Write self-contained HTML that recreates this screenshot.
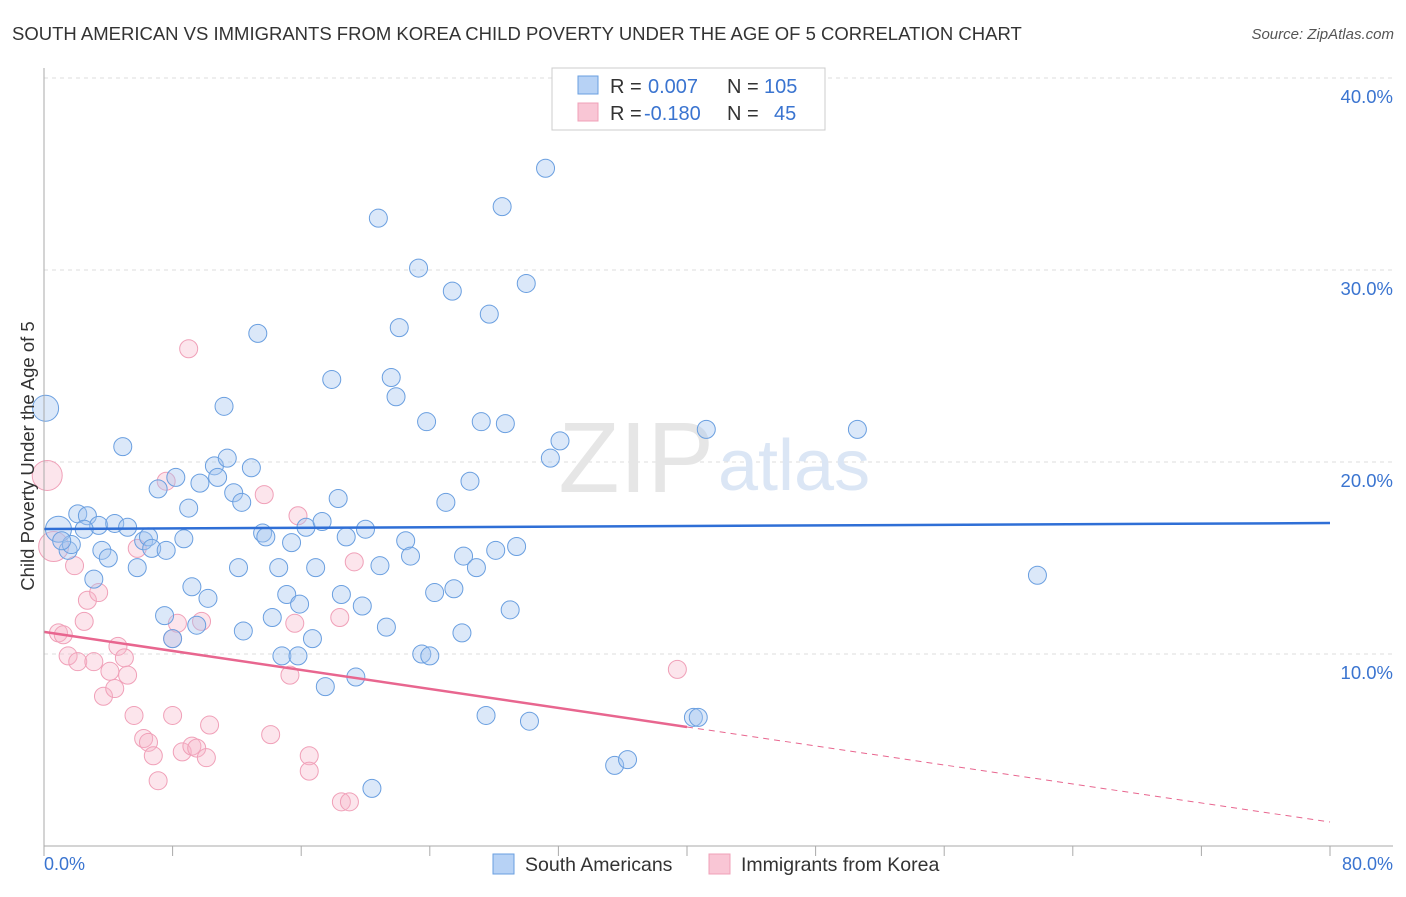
<!DOCTYPE html>
<html><head><meta charset="utf-8"><style>
body{margin:0;background:#fff;font-family:"Liberation Sans",sans-serif}
svg text{font-family:"Liberation Sans",sans-serif}
</style></head><body>
<svg id="c" width="1406" height="892" viewBox="0 0 1406 892">
<text x="12" y="40" font-size="18.5" fill="#333">SOUTH AMERICAN VS IMMIGRANTS FROM KOREA CHILD POVERTY UNDER THE AGE OF 5 CORRELATION CHART</text>
<text x="1394" y="39" font-size="15" fill="#555" font-style="italic" text-anchor="end">Source: ZipAtlas.com</text>
<g id="grid"></g>
<text x="714" y="492" font-size="100" fill="#e6e6e6" text-anchor="end" font-family="Liberation Serif">ZIP</text>
<text x="718" y="490" font-size="72" fill="#dbe6f5">atlas</text>
<g id="pts"></g>
<g id="lines"></g>
<line x1="44" y1="68" x2="44" y2="846" stroke="#aaa"/>
<line x1="44" y1="846" x2="1393" y2="846" stroke="#aaa"/>
<text transform="translate(34,456) rotate(-90)" font-size="18.5" fill="#333" text-anchor="middle">Child Poverty Under the Age of 5</text>
<text x="44" y="870" font-size="18" fill="#3a74d0">0.0%</text>
<text x="1393" y="870" font-size="18" fill="#3a74d0" text-anchor="end">80.0%</text>
<g>
<rect x="552" y="68" width="273" height="62" fill="#fff" stroke="#ccc"/>
<rect x="578" y="76" width="20" height="18" fill="#b7d2f5" stroke="#6a9fe0"/>
<rect x="578" y="103" width="20" height="18" fill="#f9c6d5" stroke="#f0a0b8"/>
<text x="610" y="93" font-size="20" fill="#333">R = <tspan x="648" fill="#3a74d0">0.007</tspan><tspan x="727">N = </tspan><tspan x="764" fill="#3a74d0">105</tspan></text>
<text x="610" y="120" font-size="20" fill="#333">R = <tspan x="644" fill="#3a74d0">-0.180</tspan><tspan x="727">N = </tspan><tspan fill="#3a74d0" x="774">45</tspan></text>
</g>
<g>
<rect x="493" y="854" width="21" height="20" fill="#b7d2f5" stroke="#6a9fe0"/>
<text x="525" y="871" font-size="19.5" fill="#333">South Americans</text></g>
<g>
<rect x="709" y="854" width="21" height="20" fill="#f9c6d5" stroke="#f0a0b8"/>
<text x="741" y="871" font-size="19.5" fill="#333">Immigrants from Korea</text></g>
</svg>
<script>
const yTicks=[10,20,30,40];
const yTickLabels=["10.0%","20.0%","30.0%","40.0%"];
const xTicks=[0,8,16,24,32,40,48,56,64,72,80];
const blueX=[0.1,0.9,1.5,1.7,1.1,2.1,2.7,3.4,2.5,3.1,3.6,4.0,4.4,4.9,5.2,5.8,6.2,6.5,6.7,7.1,7.6,8.2,8.7,9.0,9.2,7.5,8.0,9.5,9.7,10.2,10.6,10.8,11.2,11.4,11.8,12.1,12.3,12.4,12.9,13.3,13.6,13.8,14.2,14.6,15.1,14.8,15.4,15.8,15.9,16.3,16.7,16.9,17.3,17.5,17.9,18.3,18.5,18.8,19.4,19.8,20.0,20.4,20.8,20.9,21.3,21.6,21.9,22.1,22.5,22.8,23.3,23.5,23.8,24.0,24.3,25.0,25.4,25.5,26.0,26.1,26.5,26.9,27.2,27.5,27.7,28.1,28.5,28.7,29.0,29.4,30.0,30.2,31.2,31.5,32.1,35.5,36.3,40.4,40.7,41.2,50.6,61.8];
const blueY=[22.8,16.5,15.4,15.7,15.9,17.3,17.2,16.7,16.5,13.9,15.4,15.0,16.8,20.8,16.6,14.5,15.9,16.1,15.5,18.6,15.4,19.2,16.0,17.6,13.5,12.0,10.8,11.5,18.9,12.9,19.8,19.2,22.9,20.2,18.4,14.5,17.9,11.2,19.7,26.7,16.3,16.1,11.9,14.5,13.1,9.9,15.8,9.9,12.6,16.6,10.8,14.5,16.9,8.3,24.3,18.1,13.1,16.1,8.8,12.5,16.5,3.0,32.7,14.6,11.4,24.4,23.4,27.0,15.9,15.1,30.1,10.0,22.1,9.9,13.2,17.9,28.9,13.4,11.1,15.1,19.0,14.5,22.1,6.8,27.7,15.4,33.3,22.0,12.3,15.6,29.3,6.5,35.3,20.2,21.1,4.2,4.5,6.7,6.7,21.7,21.7,14.1];
const pinkX=[0.2,0.6,0.9,1.2,1.5,1.9,2.1,2.5,2.7,3.1,3.4,3.7,4.1,4.4,4.6,5.0,5.2,5.6,5.8,6.2,6.5,6.8,7.1,7.6,8.0,8.0,8.3,8.6,9.0,9.2,9.5,9.8,10.1,10.3,13.7,14.1,15.3,15.6,15.8,16.5,16.5,18.4,18.5,19.0,19.3,39.4];
const pinkY=[19.3,15.6,11.1,11.0,9.9,14.6,9.6,11.7,12.8,9.6,13.2,7.8,9.1,8.2,10.4,9.8,8.9,6.8,15.5,5.6,5.4,4.7,3.4,19.0,6.8,10.8,11.6,4.9,25.9,5.2,5.1,11.7,4.6,6.3,18.3,5.8,8.9,11.6,17.2,4.7,3.9,11.9,2.3,2.3,14.8,9.2];
const blueTrend=[16.51,16.82];
const pinkTrend=[11.15,1.25];
const NS='http://www.w3.org/2000/svg';
const X=v=>44+v/80*1286, Y=v=>846-v*19.2;
function mk(tag,attrs,parent){const e=document.createElementNS(NS,tag);for(const k in attrs)e.setAttribute(k,attrs[k]);parent.appendChild(e);return e;}
const grid=document.getElementById('grid');
yTicks.forEach((t,i)=>{
  const l=mk('line',{x1:44,x2:1393,y1:Y(t),y2:Y(t),stroke:'#ddd','stroke-dasharray':'4,4'},grid);
  
  
  const tx=mk('text',{x:1393,y:Y(t)+25,'font-size':18.5,fill:'#3a74d0','text-anchor':'end'},grid);
  tx.textContent=yTickLabels[i];
  
  
});
xTicks.forEach(t=>{
  const l=mk('line',{x1:X(t),x2:X(t),y1:Y(0),y2:Y(0)+10,stroke:'#aaa'},grid);
  
  
});
const pts=document.getElementById('pts');
pinkX.forEach((v,i)=>{
  const c=mk('circle',{cx:X(v),cy:Y(pinkY[i]),r:i<2?15:9,fill:'rgba(246,180,200,0.35)',stroke:'#f0a0b8','stroke-width':1},pts);
  
  
});
blueX.forEach((v,i)=>{
  const c=mk('circle',{cx:X(v),cy:Y(blueY[i]),r:i<2?13:9,fill:'rgba(165,198,240,0.4)',stroke:'#6a9fe0','stroke-width':1},pts);
  
  
});
const lines=document.getElementById('lines');
const bl=mk('line',{x1:X(0),y1:Y(blueTrend[0]),x2:X(80),y2:Y(blueTrend[1]),stroke:'#2f6fd6','stroke-width':2.5},lines);


const pm=pinkTrend[0]+(pinkTrend[1]-pinkTrend[0])*40/80;
const pl=mk('line',{x1:X(0),y1:Y(pinkTrend[0]),x2:X(40),y2:Y(pm),stroke:'#e8668f','stroke-width':2.5},lines);


const pd=mk('line',{x1:X(40),y1:Y(pm),x2:X(80),y2:Y(pinkTrend[1]),stroke:'#e8668f','stroke-width':1,'stroke-dasharray':'6,5'},lines);


</script>
</body></html>
